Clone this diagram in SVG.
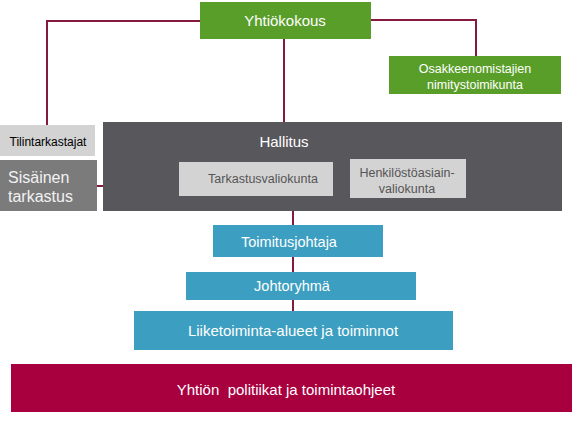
<svg xmlns="http://www.w3.org/2000/svg" width="574" height="422" viewBox="0 0 574 422">
<style>
text{font-family:"Liberation Sans",Arial,sans-serif}
.g{fill:#5a9e2a}
.b{fill:#3c9ec0}
.lg{fill:#d4d3d4}
.w{fill:#ffffff}
.c{fill:none;stroke:#861a3c;stroke-width:2}
</style>
<rect width="574" height="422" fill="#ffffff"/>
<g id="connectors">
<polyline class="c" points="200,21 47,21 47,125"/>
<polyline class="c" points="371,20 476,20 476,56"/>
<line class="c" x1="284" y1="39" x2="284" y2="122"/>
<line class="c" x1="97" y1="186" x2="103" y2="186"/>
<line class="c" x1="293" y1="211" x2="293" y2="311"/>
</g>
<g id="yhtiokokous">
<rect class="g" x="200" y="2" width="171" height="37"/>
<text x="285" y="26" font-size="15" text-anchor="middle" class="w">Yhtiökokous</text>
</g>
<g id="osakkeenomistajien">
<rect class="g" x="389" y="56" width="172" height="38"/>
<text x="475" y="73" font-size="12.5" text-anchor="middle" class="w">Osakkeenomistajien</text>
<text x="475" y="89" font-size="12.5" text-anchor="middle" class="w">nimitystoimikunta</text>
</g>
<g id="tilintarkastajat">
<rect class="lg" x="0" y="125" width="95" height="31"/>
<text x="48" y="146" font-size="12" text-anchor="middle" fill="#000000">Tilintarkastajat</text>
</g>
<g id="sisainen">
<rect x="0" y="160" width="97" height="51" fill="#7b7b7c"/>
<text x="8" y="183" font-size="16" fill="#f2f2f2">Sisäinen</text>
<text x="8" y="202" font-size="16" fill="#f2f2f2">tarkastus</text>
</g>
<g id="hallitus">
<rect x="103" y="122" width="459" height="89" fill="#58575c"/>
<text x="284" y="147" font-size="15" text-anchor="middle" class="w">Hallitus</text>
</g>
<g id="tarkastusvaliokunta">
<rect class="lg" x="179" y="162" width="154" height="34"/>
<text x="263" y="183" font-size="12.5" text-anchor="middle" fill="#555555">Tarkastusvaliokunta</text>
</g>
<g id="henkilostoasiain">
<rect class="lg" x="350" y="159" width="116" height="39"/>
<text x="407" y="177" font-size="12.5" text-anchor="middle" fill="#555555">Henkilöstöasiain-</text>
<text x="407" y="193" font-size="12.5" text-anchor="middle" fill="#555555">valiokunta</text>
</g>
<g id="toimitusjohtaja">
<rect class="b" x="213" y="225" width="170" height="32"/>
<text x="289" y="247" font-size="14.5" text-anchor="middle" class="w">Toimitusjohtaja</text>
</g>
<g id="johtoryhma">
<rect class="b" x="186" y="272" width="230" height="28"/>
<text x="292" y="291" font-size="14.5" text-anchor="middle" class="w">Johtoryhmä</text>
</g>
<g id="liiketoiminta">
<rect class="b" x="134" y="311" width="319" height="39"/>
<text x="293" y="336" font-size="15" text-anchor="middle" class="w">Liiketoiminta-alueet ja toiminnot</text>
</g>
<g id="politiikat">
<rect x="11" y="364" width="561" height="48" fill="#a8003f"/>
<text x="286" y="395" font-size="15" text-anchor="middle" class="w" xml:space="preserve">Yhtiön  politiikat ja toimintaohjeet</text>
</g>
</svg>
